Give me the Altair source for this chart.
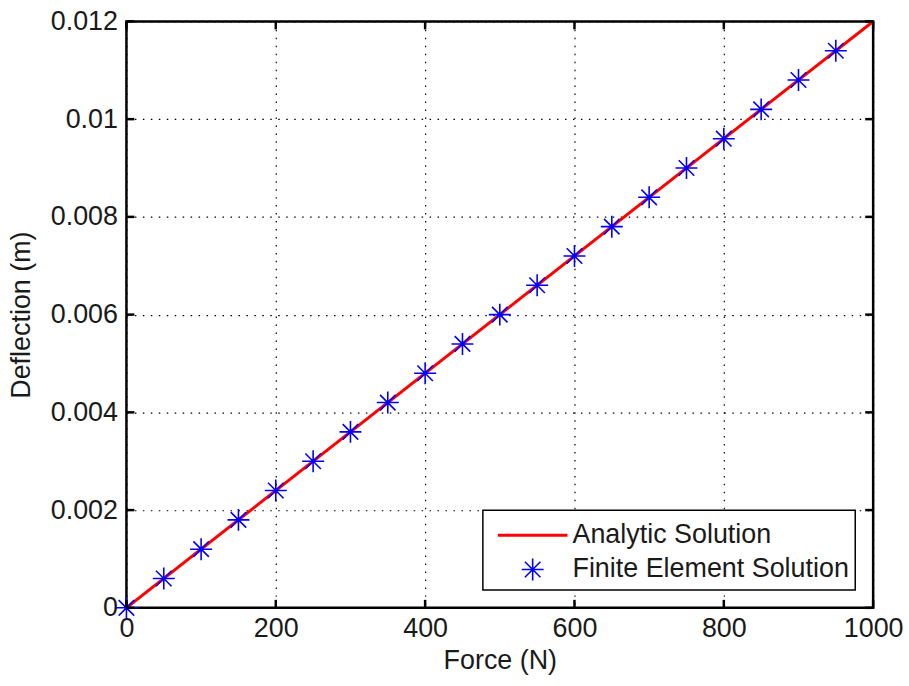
import altair as alt
import pandas as pd

# ---------------- data ----------------
series_names = ["Analytic Solution", "Finite Element Solution"]
analytic_force = [0, 1000]
analytic_defl = [0.0, 0.012]
fe_force = [0, 50, 100, 150, 200, 250, 300, 350, 400, 450,
            500, 550, 600, 650, 700, 750, 800, 850, 900, 950]
fe_defl = [0.0, 0.0006, 0.0012, 0.0018, 0.0024, 0.0030, 0.0036, 0.0042, 0.0048, 0.0054,
           0.0060, 0.0066, 0.0072, 0.0078, 0.0084, 0.0090, 0.0096, 0.0102, 0.0108, 0.0114]
x_ticks = [0, 200, 400, 600, 800, 1000]
y_ticks = [0, 0.002, 0.004, 0.006, 0.008, 0.010, 0.012]

W, H = 750, 589
TICK = 8
FONT = "Liberation Sans"
FS = 27
LINE_SYM = "M-2,0L2,0"
ASTER = ("M-0.63,0L0.63,0M0,-0.63L0,0.63"
         "M-0.445,-0.445L0.445,0.445M-0.445,0.445L0.445,-0.445")

line_df = pd.DataFrame({"force": analytic_force, "defl": analytic_defl,
                        "series": series_names[0]})
fe_df = pd.DataFrame({"force": fe_force, "defl": fe_defl, "series": series_names[1]})
xt_df = pd.DataFrame({"v": x_ticks})
yt_df = pd.DataFrame({"v": y_ticks})

xscale = alt.Scale(domain=[0, 1000], nice=False, zero=False)
yscale = alt.Scale(domain=[0, 0.012], nice=False, zero=False)

xenc = alt.X("force:Q", scale=xscale,
             axis=alt.Axis(values=x_ticks, title="Force (N)", format="d",
                           labelPadding=8, titlePadding=6, labelFlush=False))
yenc = alt.Y("defl:Q", scale=yscale,
             axis=alt.Axis(values=y_ticks, title="Deflection (m)", format=".3~f",
                           labelPadding=9, titlePadding=15, labelFlush=False))

leg = dict(title=None, orient="bottom-right", offset=18, symbolSize=1225,
           padding=6, rowPadding=3, symbolOffset=25, labelOffset=21)

color = alt.Color("series:N",
                  scale=alt.Scale(domain=series_names, range=["#ff0000", "#0000ff"]),
                  legend=alt.Legend(**leg))
shape = alt.Shape("series:N",
                  scale=alt.Scale(domain=series_names, range=[LINE_SYM, ASTER]),
                  legend=alt.Legend(**leg))
swidth = alt.StrokeWidth("series:N",
                         scale=alt.Scale(domain=series_names, range=[3, 1.6]),
                         legend=alt.Legend(**leg))

line = alt.Chart(line_df).mark_line(clip=True).encode(
    x=xenc, y=yenc, color=color, strokeWidth=swidth)

points = alt.Chart(fe_df).mark_point(filled=False, size=1225, opacity=1, clip=False).encode(
    x=alt.X("force:Q", scale=xscale), y=alt.Y("defl:Q", scale=yscale),
    color=color, shape=shape, strokeWidth=swidth)

tick_style = dict(color="black", strokeWidth=2.5)
xt_bot = alt.Chart(xt_df).mark_rule(**tick_style).encode(
    x=alt.X("v:Q", scale=xscale), y=alt.value(H), y2=alt.value(H - TICK))
xt_top = alt.Chart(xt_df).mark_rule(**tick_style).encode(
    x=alt.X("v:Q", scale=xscale), y=alt.value(0), y2=alt.value(TICK))
yt_left = alt.Chart(yt_df).mark_rule(**tick_style).encode(
    y=alt.Y("v:Q", scale=yscale), x=alt.value(0), x2=alt.value(TICK))
yt_right = alt.Chart(yt_df).mark_rule(**tick_style).encode(
    y=alt.Y("v:Q", scale=yscale), x=alt.value(W), x2=alt.value(W - TICK))

chart = alt.layer(line, points, xt_bot, xt_top, yt_left, yt_right).properties(
    width=W, height=H, background="white",
    padding={"left": 7, "top": 6, "right": 5, "bottom": 5},
).configure_view(
    stroke="black", strokeWidth=2.5
).configure_axis(
    domain=False, ticks=False, grid=True,
    gridDash=[1.5, 6.5], gridColor="#000000", gridWidth=1.2, gridOpacity=1,
    labelFont=FONT, labelFontSize=FS, labelColor="#1a1a1a",
    titleFont=FONT, titleFontSize=FS, titleFontWeight="normal", titleColor="#1a1a1a",
).configure_legend(
    labelFont=FONT, labelFontSize=FS, labelColor="#1a1a1a", labelLimit=0,
    strokeColor="black", fillColor="white", strokeWidth=1.5, cornerRadius=0,
)

chart.save("out.html", embed_options={"renderer": "svg", "actions": False})
